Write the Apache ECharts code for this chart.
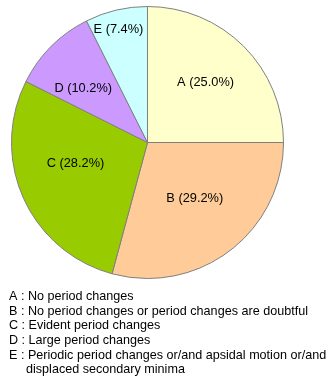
<!DOCTYPE html>
<html><head><meta charset="utf-8">
<script src="https://cdn.jsdelivr.net/npm/echarts@6/dist/echarts.min.js"></script>
<style>html,body{margin:0;padding:0;background:#fff}#c{width:334px;height:381px}</style>
</head><body><div id="c"></div>
<script>
const categories = ['A', 'B', 'C', 'D', 'E'];
const percentages = [25.0, 29.2, 28.2, 10.2, 7.4];
const legendLines = [
  'A : No period changes',
  'B : No period changes or period changes are doubtful',
  'C : Evident period changes',
  'D : Large period changes',
  'E : Periodic period changes or/and apsidal motion or/and',
  'displaced secondary minima'
];

const colors = ['#FFFFCC', '#FFCC99', '#99CC00', '#CC99FF', '#CCFFFF'];
const R = 136;
const center = [147.5, 142.5];
// label placement: distance from centre as fraction of radius, plus small nudges
const labelRatio = [0.613, 0.526, 0.526, 0.615, 0.873];
const labelDx = [-3, 2, -4, -3, -1];
const labelDy = [1, -3, -9, 7, 5];
const font = 'Liberation Sans, Arial, sans-serif';

const chart = echarts.init(document.getElementById('c'), null, {renderer: 'canvas'});
const data = categories.map((c, i) => ({name: c, value: percentages[i], itemStyle: {color: colors[i]}}));

const series = [{
  type: 'pie', center: center, radius: [0, R], startAngle: 90, clockwise: true,
  animation: false, silent: true, avoidLabelOverlap: false,
  label: {show: false}, labelLine: {show: false},
  itemStyle: {borderColor: '#808080', borderWidth: 1},
  data: data
}];
categories.forEach((c, k) => {
  series.push({
    type: 'pie', center: center, radius: [0, 2 * labelRatio[k] * R], startAngle: 90, clockwise: true,
    animation: false, silent: true, avoidLabelOverlap: false, labelLine: {show: false},
    itemStyle: {color: 'rgba(0,0,0,0)', borderWidth: 0},
    label: {show: false},
    labelLayout: {dx: labelDx[k], dy: labelDy[k]},
    data: categories.map((cc, i) => ({
      name: cc, value: percentages[i],
      label: i === k ? {show: true, position: 'inside', formatter: cc + ' (' + percentages[i].toFixed(1) + '%)',
        color: '#000', fontSize: 12.8, fontFamily: font} : {show: false}
    }))
  });
});

const graphic = legendLines.map((t, i) => ({
  type: 'text', left: i === 5 ? 26 : 9, top: 290 + i * 14.67,
  style: {text: t, fill: '#000', font: '12.6px ' + font}
}));

chart.setOption({backgroundColor: '#fff', series: series, graphic: graphic});
</script></body></html>
